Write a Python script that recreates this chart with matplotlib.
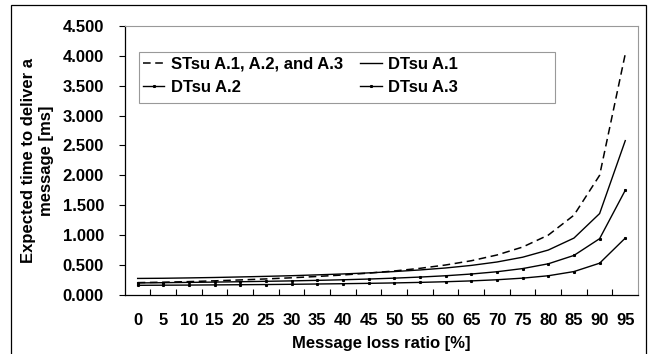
import matplotlib
matplotlib.use("Agg")
import matplotlib.pyplot as plt
from matplotlib.patches import Rectangle
from matplotlib.ticker import FormatStrFormatter, FixedLocator

plt.rcParams['font.family'] = ['Liberation Sans', 'DejaVu Sans']
plt.rcParams['font.weight'] = 'bold'

# message loss ratio categories (%)
loss_ratio = [0, 5, 10, 15, 20, 25, 30, 35, 40, 45, 50, 55, 60, 65, 70, 75, 80, 85, 90, 95]

# expected time to deliver a message [ms]
stsu_all = [0.205, 0.212, 0.222, 0.235, 0.250, 0.267, 0.286, 0.308, 0.333, 0.364,
            0.400, 0.444, 0.500, 0.571, 0.667, 0.800, 1.000, 1.333, 2.000, 4.030]
dtsu_a1 = [0.275, 0.278, 0.284, 0.291, 0.300, 0.310, 0.321, 0.335, 0.350, 0.368,
           0.390, 0.417, 0.450, 0.493, 0.550, 0.630, 0.750, 0.950, 1.360, 2.580]
dtsu_a2 = [0.200, 0.204, 0.209, 0.214, 0.220, 0.227, 0.234, 0.243, 0.253, 0.265,
           0.280, 0.298, 0.320, 0.349, 0.387, 0.440, 0.520, 0.660, 0.940, 1.750]
dtsu_a3 = [0.160, 0.162, 0.164, 0.167, 0.170, 0.173, 0.177, 0.182, 0.187, 0.193,
           0.200, 0.209, 0.220, 0.234, 0.253, 0.280, 0.320, 0.390, 0.530, 0.950]

FS = 12

fig = plt.figure(figsize=(6.64, 3.54), dpi=100)
ax = fig.add_axes([0.188, 0.167, 0.773, 0.760])

x = range(len(loss_ratio))
h0, = ax.plot(x, stsu_all, color='black', lw=1.1, ls=(0, (5, 3)), label='STsu A.1, A.2, and A.3')
h1, = ax.plot(x, dtsu_a1, color='black', lw=1.0, label='DTsu A.1')
h2, = ax.plot(x, dtsu_a2, color='black', lw=1.0, marker='s', markersize=1.2, label='DTsu A.2')
h3, = ax.plot(x, dtsu_a3, color='black', lw=1.0, marker='s', markersize=1.2, label='DTsu A.3')

ax.set_xlim(-0.5, len(loss_ratio) - 0.5)
ax.set_ylim(0, 4.5)
ax.set_yticks([i * 0.5 for i in range(10)])
ax.yaxis.set_major_formatter(FormatStrFormatter('%.3f'))

# excel style category axis: ticks between categories, labels at centres
ax.xaxis.set_major_locator(FixedLocator([i + 0.5 for i in range(len(loss_ratio) - 1)]))
ax.xaxis.set_minor_locator(FixedLocator(list(x)))
ax.set_xticklabels([])
ax.set_xticklabels([str(v) for v in loss_ratio], minor=True)
ax.tick_params(axis='x', which='major', direction='in', length=4, width=0.8)
ax.tick_params(axis='x', which='minor', length=0, pad=13, labelsize=FS)
ax.tick_params(axis='y', direction='out', length=4, width=0.8, pad=11, labelsize=FS)

for side in ['top', 'right']:
    ax.spines[side].set_color('#999999')
    ax.spines[side].set_linewidth(0.8)
for side in ['left', 'bottom']:
    ax.spines[side].set_color('black')
    ax.spines[side].set_linewidth(0.9)

ax.set_xlabel('Message loss ratio [%]', fontsize=FS, fontweight='bold', labelpad=6)
ax.set_ylabel('Expected time to deliver a\nmessage [ms]', fontsize=FS, fontweight='bold',
              labelpad=6, linespacing=1.25)

# legend filled row by row like the original (matplotlib fills by column)
leg = ax.legend([h0, h2, h1, h3], [h0.get_label(), h2.get_label(), h1.get_label(), h3.get_label()],
                loc='upper left', bbox_to_anchor=(0.035, 0.885), ncol=2, fontsize=FS,
                frameon=False, handlelength=1.3, handletextpad=0.4, columnspacing=1.0,
                borderaxespad=0, borderpad=0, labelspacing=0.5)
ax.add_patch(Rectangle((0.027, 0.714), 0.811, 0.189, transform=ax.transAxes, fill=False,
                       edgecolor='#999999', linewidth=0.8, zorder=5))

# outer frame around the whole chart
fig.patches.append(Rectangle((0.0166, -0.02), 0.956, 1.006, transform=fig.transFigure,
                             fill=False, edgecolor='black', linewidth=0.9))

fig.savefig('out.png', dpi=100)
